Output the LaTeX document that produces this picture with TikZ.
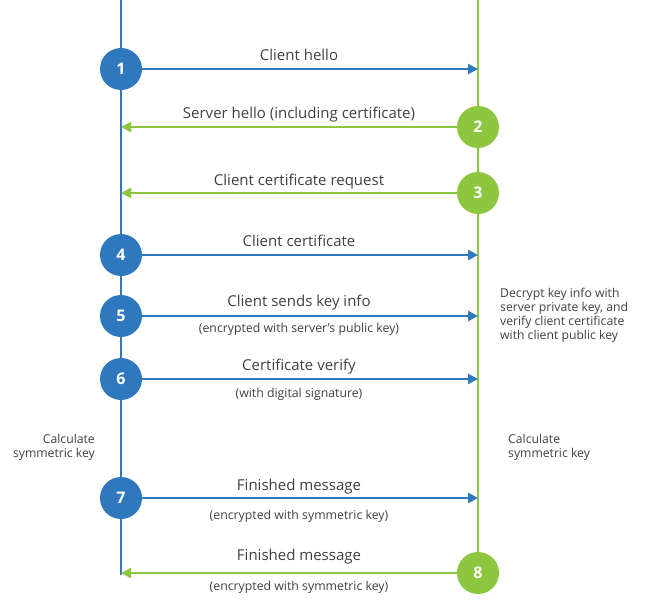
\documentclass[tikz,border=0pt]{standalone}
\usepackage{fontspec}
\setmainfont{Open Sans}
\usetikzlibrary{arrows.meta}
\definecolor{cblue}{HTML}{2F78BE}
\definecolor{cgreen}{HTML}{8DC63F}
\definecolor{ctext}{HTML}{404040}
\tikzset{
  bluecirc/.style={circle,fill=cblue,minimum size=42pt,inner sep=0pt,text=white,font=\bfseries\fontsize{16}{16}\selectfont},
  greencirc/.style={circle,fill=cgreen,minimum size=42pt,inner sep=0pt,text=white,font=\bfseries\fontsize{16}{16}\selectfont},
  msg/.style={text=ctext,font=\fontsize{15}{18}\selectfont,inner sep=0pt},
  sub/.style={text=ctext,font=\fontsize{12.3}{14}\selectfont,inner sep=0pt},
  side/.style={text=ctext,font=\fontsize{12.2}{14}\selectfont,inner sep=0pt,align=left},
  bline/.style={cblue,line width=2.8pt},
  gline/.style={cgreen,line width=2.8pt},
  barrow/.style={cblue,line width=2.8pt,-{Triangle[length=10pt,width=10pt]}},
  garrow/.style={cgreen,line width=2.8pt,-{Triangle[length=10pt,width=10pt]}},
}
\begin{document}
\begin{tikzpicture}[x=1pt,y=-1pt]
\useasboundingbox (0,0) rectangle (663,604);
% lifelines
\coordinate (ltop) at (121,0);
\coordinate (lbot) at (121,575);
\coordinate (rtop) at (478,0);
\coordinate (rbot) at (478,573);
\draw[bline] (ltop) -- (lbot);
\draw[gline] (rtop) -- (rbot);
% anchors on the lifelines
\coordinate (r1) at (478,69);
\coordinate (l2) at (121,127);
\coordinate (l3) at (121,193);
\coordinate (r4) at (478,255);
\coordinate (r5) at (478,316);
\coordinate (r6) at (478,379);
\coordinate (r7) at (478,498);
\coordinate (l8) at (121,573);
% circles
\node[bluecirc] (c1) at (121,69) {1};
\node[greencirc] (c2) at (478,127) {2};
\node[greencirc] (c3) at (478,193) {3};
\node[bluecirc] (c4) at (121,255) {4};
\node[bluecirc] (c5) at (121,316) {5};
\node[bluecirc] (c6) at (121,379) {6};
\node[bluecirc] (c7) at (121,498) {7};
\node[greencirc] (c8) at (478,573) {8};
% arrows
\draw[barrow] (c1) -- (r1);
\draw[garrow] (c2) -- (l2);
\draw[garrow] (c3) -- (l3);
\draw[barrow] (c4) -- (r4);
\draw[barrow] (c5) -- (r5);
\draw[barrow] (c6) -- (r6);
\draw[barrow] (c7) -- (r7);
\draw[garrow] (c8) -- (l8);
% labels
\node[msg] (t1) at (299,55) {Client hello};
\node[msg] (t2) at (299,115) {Server hello (including certificate)};
\node[msg] (t3) at (299,182) {Client certificate request};
\node[msg] (t4) at (299,241) {Client certificate};
\node[msg] (t5) at (299,303) {Client sends key info};
\node[sub] (s5) at (299,329) {(encrypted with server’s public key)};
\node[msg] (t6) at (299,367) {Certificate verify};
\node[sub] (s6) at (299,394) {(with digital signature)};
\node[msg] (t7) at (299,487) {Finished message};
\node[sub] (s7) at (299,516) {(encrypted with symmetric key)};
\node[msg] (t8) at (299,557) {Finished message};
\node[sub] (s8) at (299,587) {(encrypted with symmetric key)};
% side notes
\node[side,align=right,anchor=east] (lc) at (95,447) {Calculate\\symmetric key};
\node[side,anchor=west] (rc) at (508,447) {Calculate\\symmetric key};
\node[side,anchor=west] (dk) at (500,315) {Decrypt key info with\\server private key, and\\verify client certificate\\with client public key};
\end{tikzpicture}
\end{document}
